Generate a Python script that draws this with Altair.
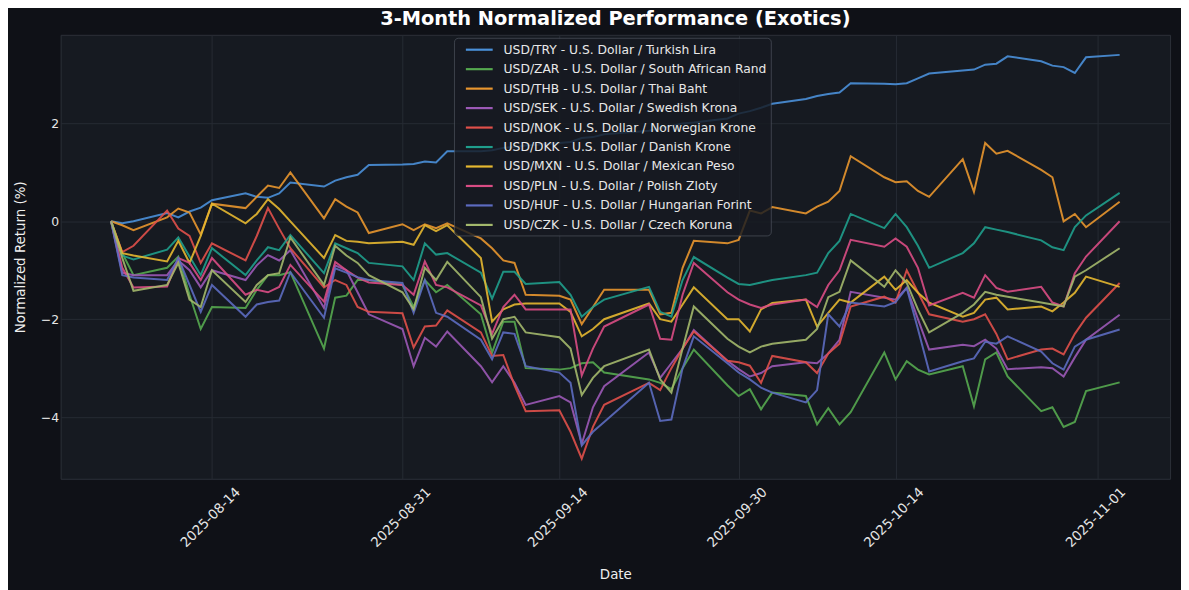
import altair as alt
import pandas as pd

dates = [
    "2025-08-05", "2025-08-06", "2025-08-07",
    "2025-08-10", "2025-08-11", "2025-08-12", "2025-08-13", "2025-08-14",
    "2025-08-17", "2025-08-18", "2025-08-19", "2025-08-20", "2025-08-21",
    "2025-08-24", "2025-08-25", "2025-08-26", "2025-08-27", "2025-08-28",
    "2025-08-31", "2025-09-01", "2025-09-02", "2025-09-03", "2025-09-04",
    "2025-09-07", "2025-09-08", "2025-09-09", "2025-09-10", "2025-09-11",
    "2025-09-14", "2025-09-15", "2025-09-16", "2025-09-17", "2025-09-18",
    "2025-09-22", "2025-09-23", "2025-09-24", "2025-09-25", "2025-09-26",
    "2025-09-29", "2025-09-30", "2025-10-01", "2025-10-02", "2025-10-03",
    "2025-10-06", "2025-10-07", "2025-10-08", "2025-10-09", "2025-10-10",
    "2025-10-13", "2025-10-14", "2025-10-15", "2025-10-16", "2025-10-17",
    "2025-10-20", "2025-10-21", "2025-10-22", "2025-10-23", "2025-10-24",
    "2025-10-27", "2025-10-28", "2025-10-29", "2025-10-30", "2025-10-31",
    "2025-11-03",
]

pairs = [
    "USD/TRY - U.S. Dollar / Turkish Lira",
    "USD/ZAR - U.S. Dollar / South African Rand",
    "USD/THB - U.S. Dollar / Thai Baht",
    "USD/SEK - U.S. Dollar / Swedish Krona",
    "USD/NOK - U.S. Dollar / Norwegian Krone",
    "USD/DKK - U.S. Dollar / Danish Krone",
    "USD/MXN - U.S. Dollar / Mexican Peso",
    "USD/PLN - U.S. Dollar / Polish Zloty",
    "USD/HUF - U.S. Dollar / Hungarian Forint",
    "USD/CZK - U.S. Dollar / Czech Koruna",
]

colors = ["#4a90d9", "#55a84f", "#e8962e", "#9b59b6", "#e0504a",
          "#1f9e8c", "#e6b830", "#d94c84", "#5c6bc0", "#a3b86c"]

usd_try = [0.0, -0.04, 0.0, 0.17, 0.08, 0.2, 0.28, 0.43, 0.57, 0.5,
           0.48, 0.57, 0.79, 0.71, 0.83, 0.9, 0.95, 1.15, 1.16, 1.17,
           1.22, 1.2, 1.43, 1.43, 1.45, 1.5, 1.52, 1.55, 1.6, 1.62,
           1.7, 1.72, 1.78, 1.85, 1.9, 1.95, 2.0, 2.02, 2.1, 2.2,
           2.25, 2.32, 2.4, 2.5, 2.56, 2.6, 2.63, 2.82, 2.81, 2.8,
           2.82, 2.92, 3.02, 3.08, 3.1, 3.2, 3.22, 3.37, 3.27, 3.18,
           3.15, 3.03, 3.35, 3.4]
usd_zar = [0.0, -0.65, -1.1, -0.95, -0.72, -1.5, -2.2, -1.75, -1.77, -1.4,
           -1.1, -1.1, -1.04, -2.6, -1.56, -1.52, -1.2, -1.2, -1.3, -1.75,
           -1.2, -1.45, -1.3, -1.9, -2.68, -2.05, -2.05, -3.0, -3.03, -3.0,
           -2.9, -2.88, -3.09, -3.23, -3.3, -3.43, -3.0, -2.62, -3.35, -3.57,
           -3.43, -3.84, -3.5, -3.57, -4.15, -3.82, -4.15, -3.9, -2.68, -3.23,
           -2.86, -3.03, -3.13, -2.96, -3.78, -2.82, -2.68, -3.17, -3.88, -3.8,
           -4.2, -4.1, -3.47, -3.29]
usd_thb = [0.0, -0.08, -0.18, 0.08, 0.26, 0.18, -0.27, 0.36, 0.27, 0.5,
           0.73, 0.68, 1.0, 0.06, 0.45, 0.3, 0.18, -0.24, -0.06, -0.18,
           -0.06, -0.14, -0.04, -0.35, -0.55, -0.8, -0.85, -1.5, -1.52, -1.6,
           -2.1, -1.75, -1.4, -1.4, -1.9, -1.87, -0.95, -0.4, -0.45, -0.38,
           0.22, 0.16, 0.29, 0.16, 0.3, 0.4, 0.62, 1.33, 0.9, 0.8,
           0.82, 0.62, 0.5, 1.27, 0.6, 1.6, 1.38, 1.44, 1.05, 0.9,
           0.0, 0.15, -0.12, 0.4]
usd_sek = [0.0, -1.05, -1.1, -1.1, -0.8, -1.0, -1.35, -1.0, -1.2, -0.9,
           -0.69, -0.8, -0.59, -1.77, -0.9, -1.0, -1.45, -1.9, -2.2, -2.96,
           -2.38, -2.56, -2.25, -2.96, -3.29, -2.96, -3.3, -3.75, -3.57, -3.7,
           -4.55, -3.8, -3.37, -2.68, -3.2, -2.9, -2.6, -2.22, -2.85, -3.02,
           -3.17, -3.1, -2.96, -2.88, -2.9, -2.7, -2.42, -1.44, -1.56, -1.6,
           -1.36, -2.0, -2.62, -2.52, -2.55, -2.42, -2.6, -3.02, -2.98, -3.0,
           -3.17, -2.78, -2.42, -1.91]
usd_nok = [0.0, -0.63, -0.5, 0.22, -0.15, -0.3, -0.85, -0.45, -0.8, -0.3,
           0.27, -0.15, -0.55, -1.35, -1.2, -1.3, -1.75, -1.85, -1.88, -2.58,
           -2.15, -2.13, -1.82, -2.27, -2.75, -2.73, -3.35, -3.88, -3.86, -4.3,
           -4.85, -4.2, -3.75, -3.3, -3.45, -3.0, -2.6, -2.25, -2.85, -2.88,
           -2.95, -3.3, -2.75, -2.88, -3.1, -2.7, -2.5, -1.74, -1.54, -1.66,
           -1.0, -1.45, -1.9, -2.05, -2.0, -1.9, -2.3, -2.82, -2.62, -2.6,
           -2.72, -2.3, -1.97, -1.26]
usd_dkk = [0.0, -0.7, -0.78, -0.58, -0.33, -0.72, -1.1, -0.55, -1.1, -0.8,
           -0.53, -0.59, -0.28, -1.06, -0.45, -0.55, -0.65, -0.85, -0.92, -1.2,
           -0.45, -0.68, -0.65, -1.05, -1.58, -1.03, -1.03, -1.28, -1.24, -1.5,
           -1.95, -1.75, -1.6, -1.34, -1.85, -1.95, -1.2, -0.73, -1.15, -1.28,
           -1.3, -1.25, -1.2, -1.1, -1.05, -0.65, -0.4, 0.15, -0.14, 0.15,
           -0.12, -0.5, -0.95, -0.65, -0.45, -0.12, -0.17, -0.22, -0.39, -0.53,
           -0.59, -0.12, 0.12, 0.58]
usd_mxn = [0.0, -0.65, -0.7, -0.82, -0.4, -0.85, -0.3, 0.36, -0.04, 0.15,
           0.45, 0.25, 0.0, -0.75, -0.28, -0.4, -0.42, -0.45, -0.42, -0.48,
           -0.08, -0.2, -0.08, -0.75, -2.05, -1.8, -1.7, -1.68, -1.68, -1.85,
           -2.35, -2.2, -2.0, -1.68, -2.0, -2.05, -1.7, -1.35, -2.0, -2.0,
           -2.25, -1.8, -1.67, -1.6, -2.15, -1.87, -1.6, -1.66, -1.13, -1.4,
           -1.2, -1.46, -1.66, -1.95, -1.87, -1.6, -1.56, -1.8, -1.74, -1.84,
           -1.66, -1.46, -1.13, -1.34]
usd_pln = [0.0, -0.95, -1.35, -1.33, -0.75, -0.85, -1.2, -0.75, -1.5, -1.4,
           -1.45, -1.34, -0.89, -1.64, -0.83, -1.0, -1.15, -1.25, -1.3, -1.5,
           -0.82, -1.3, -1.35, -1.72, -2.3, -1.75, -1.5, -1.8, -1.8, -1.8,
           -3.15, -2.6, -2.15, -1.7, -2.4, -2.42, -1.5, -0.85, -1.45, -1.6,
           -1.7, -1.77, -1.7, -1.6, -1.75, -1.3, -1.0, -0.38, -0.52, -0.35,
           -0.52, -0.95, -1.72, -1.46, -1.56, -1.1, -1.36, -1.44, -1.34, -1.66,
           -1.74, -1.06, -0.72, 0.0]
usd_huf = [0.0, -1.1, -1.15, -1.2, -0.75, -1.3, -1.85, -1.3, -1.95, -1.7,
           -1.65, -1.62, -1.04, -1.97, -0.96, -1.05, -1.14, -1.2, -1.26, -1.87,
           -1.2, -1.87, -1.95, -2.42, -2.82, -2.27, -2.3, -2.96, -3.09, -3.3,
           -4.58, -4.3, -4.1, -3.3, -4.08, -4.05, -3.0, -2.35, -2.9, -3.09,
           -3.23, -3.4, -3.5, -3.7, -3.45, -1.9, -2.15, -1.66, -1.74, -1.65,
           -1.36, -2.2, -3.07, -2.86, -2.8, -2.46, -2.5, -2.35, -2.66, -2.9,
           -3.03, -2.56, -2.42, -2.21]
usd_czk = [0.0, -0.75, -1.42, -1.3, -0.85, -1.6, -1.75, -1.0, -1.65, -1.3,
           -1.1, -1.06, -0.33, -1.3, -0.5, -0.7, -0.85, -1.1, -1.45, -1.8,
           -0.95, -1.2, -0.83, -1.55, -2.4, -2.0, -1.95, -2.27, -2.37, -2.6,
           -3.55, -3.2, -2.96, -2.62, -3.23, -3.5, -2.6, -1.74, -2.4, -2.56,
           -2.68, -2.56, -2.5, -2.42, -2.2, -1.55, -1.44, -0.8, -1.34, -1.0,
           -1.26, -1.8, -2.27, -1.87, -1.7, -1.44, -1.5, -1.54, -1.66, -1.7,
           -1.74, -1.13, -1.0, -0.55]

series = [usd_try, usd_zar, usd_thb, usd_sek, usd_nok,
          usd_dkk, usd_mxn, usd_pln, usd_huf, usd_czk]

tick_dates = [(2025, 8, 14), (2025, 8, 31), (2025, 9, 14),
              (2025, 9, 30), (2025, 10, 14), (2025, 11, 1)]
y_ticks = [-4, -2, 0, 2]

rows = []
for order, (name, vals) in enumerate(zip(pairs, series)):
    for d, v in zip(dates, vals):
        rows.append({"date": d + "T00:00:00", "pair": name, "value": v, "k": order})
df = pd.DataFrame(rows)

FONT = "DejaVu Sans"

x_axis = alt.Axis(
    values=[alt.DateTime(year=y, month=m, date=d) for (y, m, d) in tick_dates],
    format="%Y-%m-%d",
    labelAngle=-45,
    labelAlign="right",
    labelBaseline="top",
    labelOffset=21,
    labelPadding=6,
    labelFontSize=13.5,
    title="Date",
    titlePadding=18,
)
y_axis = alt.Axis(values=y_ticks, title="Normalized Return (%)", labelPadding=2,
                  labelFontSize=12.5, titlePadding=13)

legend = alt.Legend(
    title=None,
    orient="none",
    legendX=396,
    legendY=3,
    symbolType="M0,0H4",
    symbolSize=182,
    symbolStrokeWidth=2.2,
    symbolOpacity=1,
    labelFont=FONT,
    labelFontSize=12.4,
    labelColor="#e8e8e8",
    labelLimit=400,
    labelOffset=30,
    rowPadding=4.6,
    padding=4,
    fillColor="rgba(22,26,33,0.82)",
    strokeColor="rgba(95,100,110,0.55)",
    cornerRadius=4,
)

chart = alt.Chart(df).mark_line(strokeWidth=2, opacity=0.9).encode(
    x=alt.X("date:T",
            scale=alt.Scale(domain=[alt.DateTime(year=2025, month=7, date=31, hours=12),
                                    alt.DateTime(year=2025, month=11, date=7, hours=12)]),
            axis=x_axis),
    y=alt.Y("value:Q", scale=alt.Scale(domain=[-5.26, 3.81], nice=False, zero=False), axis=y_axis),
    color=alt.Color("pair:N", scale=alt.Scale(domain=pairs, range=colors), legend=legend),
    order=alt.Order("k:Q"),
).properties(
    width=1117,
    height=447,
    padding={"left": 53, "top": 25, "right": 11, "bottom": 110},
    autosize=alt.AutoSizeParams(type="none"),
    title=alt.TitleParams("3-Month Normalized Performance (Exotics)", font=FONT, fontSize=19.5,
                          fontWeight="bold", color="#ffffff", anchor="middle", offset=5),
).configure(background="#0f1117").configure_view(
    fill="#161a21", stroke="#2c3038", strokeWidth=1
).configure_axis(
    grid=True, gridColor="#262b33", gridWidth=1, domain=False, ticks=False,
    labelColor="#e6e6e6", titleColor="#eeeeee", labelFont=FONT, titleFont=FONT,
    titleFontSize=13.5, titleFontWeight="normal",
)

chart.save("out.html", embed_options={"renderer": "svg", "actions": False})
